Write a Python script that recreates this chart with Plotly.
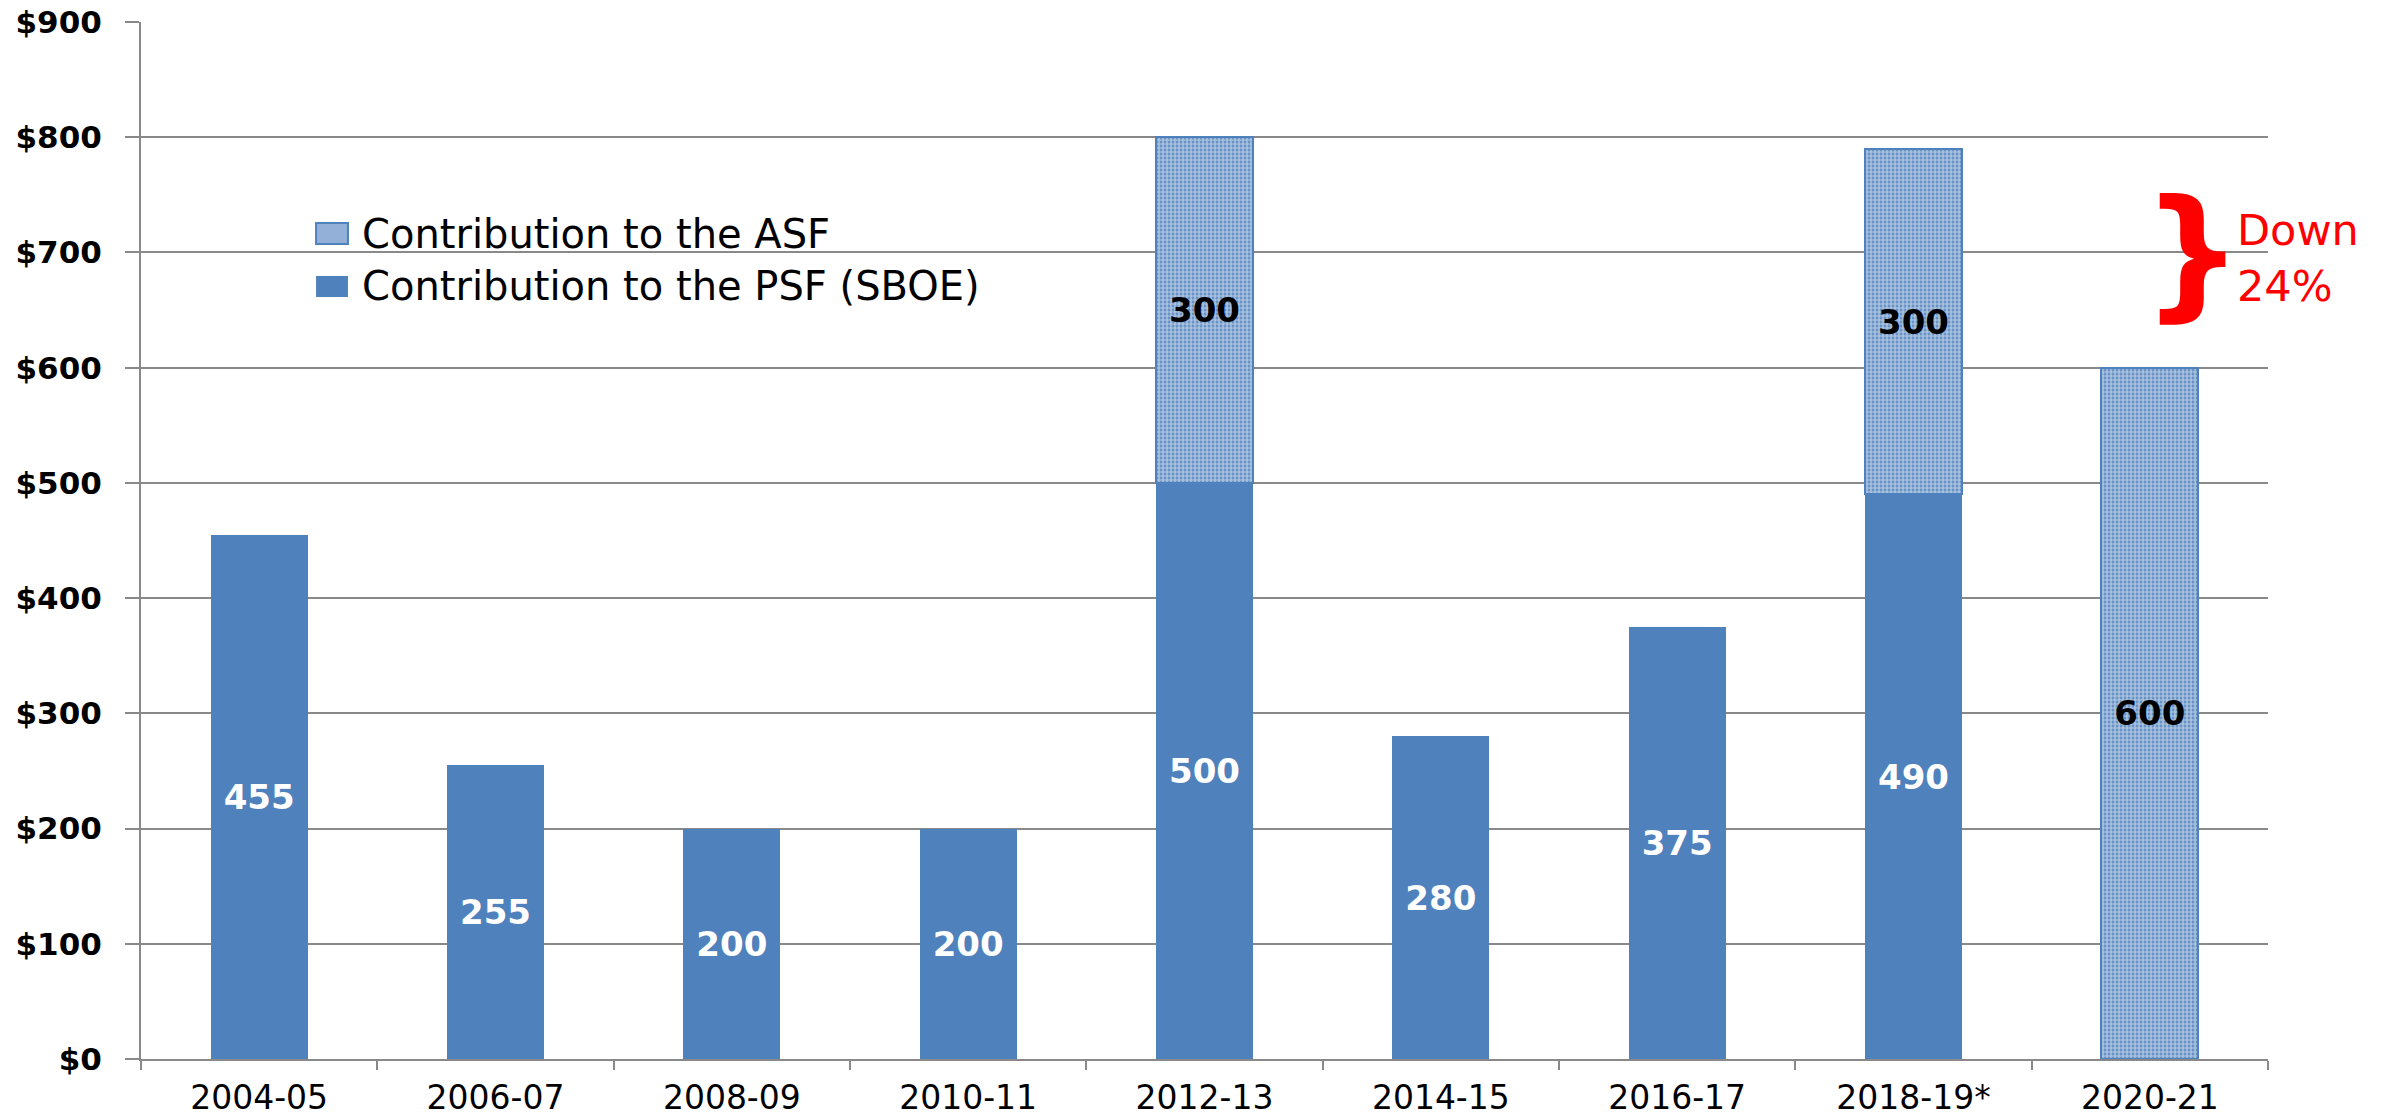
import plotly.graph_objects as go

categories = ["2004-05", "2006-07", "2008-09", "2010-11", "2012-13",
              "2014-15", "2016-17", "2018-19*", "2020-21"]
psf_values = [455, 255, 200, 200, 500, 280, 375, 490, None]
asf_values = [None, None, None, None, 300, None, None, 300, 600]
y_ticks = [0, 100, 200, 300, 400, 500, 600, 700, 800, 900]
y_tick_labels = ["$0", "$100", "$200", "$300", "$400", "$500", "$600", "$700", "$800", "$900"]
legend_labels = ["Contribution to the ASF", "Contribution to the PSF (SBOE)"]
note_text = "Down<br>24%"

BLUE = "#4F81BD"
GRAY = "#898989"
FONT = "DejaVu Sans"

fig = go.Figure()
fig.add_bar(
    x=categories, y=psf_values, name=legend_labels[1],
    text=psf_values, texttemplate="%{text}",
    marker=dict(color=BLUE, line=dict(width=0)),
    textposition="inside", insidetextanchor="middle",
    textangle=0, constraintext="none",
    textfont=dict(family=FONT, size=34, color="white", weight="bold"),
    showlegend=False,
)
fig.add_bar(
    x=categories, y=asf_values, name=legend_labels[0],
    text=asf_values, texttemplate="%{text}",
    marker=dict(color=BLUE, line=dict(color=BLUE, width=2),
                pattern=dict(shape=".", size=4, solidity=0.7,
                             fgcolor="white", bgcolor=BLUE)),
    textposition="inside", insidetextanchor="middle",
    textangle=0, constraintext="none",
    textfont=dict(family=FONT, size=34, color="black", weight="bold"),
    showlegend=False,
)

fig.update_layout(
    width=2387, height=1117,
    barmode="stack", bargap=0.59,
    plot_bgcolor="white", paper_bgcolor="white",
    margin=dict(l=141, r=119, t=22, b=58),
    font=dict(family=FONT, color="black"),
)
fig.update_xaxes(
    type="category", automargin=False,
    showline=True, linecolor=GRAY, linewidth=2,
    ticks="outside", tickson="boundaries", ticklen=9, tickwidth=2, tickcolor=GRAY,
    showgrid=False, tickfont=dict(family=FONT, size=33, color="black"),
    ticklabelstandoff=8,
)
fig.update_yaxes(
    range=[0, 900], tickvals=y_ticks, ticktext=y_tick_labels, automargin=False,
    showgrid=True, gridcolor=GRAY, gridwidth=2, zeroline=False,
    showline=True, linecolor=GRAY, linewidth=2,
    ticks="outside", ticklen=14, tickwidth=2, tickcolor=GRAY,
    tickfont=dict(family=FONT, size=31, color="black", weight="bold"),
    ticklabelstandoff=17,
)

# legend (drawn manually to match the large swatches)
fig.add_shape(type="rect", xref="paper", yref="paper",
              x0=0.0823, x1=0.0973, y0=0.7859, y1=0.8062,
              fillcolor="#93B1D8", line=dict(color=BLUE, width=2))
fig.add_shape(type="rect", xref="paper", yref="paper",
              x0=0.0823, x1=0.0973, y0=0.7348, y1=0.7551,
              fillcolor=BLUE, line=dict(color=BLUE, width=0))
fig.add_annotation(xref="paper", yref="paper", x=0.103, y=0.796,
                   xanchor="left", yanchor="middle", showarrow=False,
                   text=legend_labels[0], font=dict(family=FONT, size=40, color="black"))
fig.add_annotation(xref="paper", yref="paper", x=0.103, y=0.745,
                   xanchor="left", yanchor="middle", showarrow=False,
                   text=legend_labels[1], font=dict(family=FONT, size=40, color="black"))

# brace and note
fig.add_annotation(xref="paper", yref="paper", x=0.9645, y=0.778,
                   xanchor="center", yanchor="middle", showarrow=False,
                   text="}", font=dict(family=FONT, size=142, color="#FF0000", weight="bold"))
fig.add_annotation(xref="paper", yref="paper", x=0.9845, y=0.7724,
                   xanchor="left", yanchor="middle", showarrow=False, align="left",
                   text=note_text, font=dict(family=FONT, size=43, color="#FF0000"))

fig.write_html("out.html", config={"displayModeBar": False},
               post_script="document.body.style.margin='0';")
